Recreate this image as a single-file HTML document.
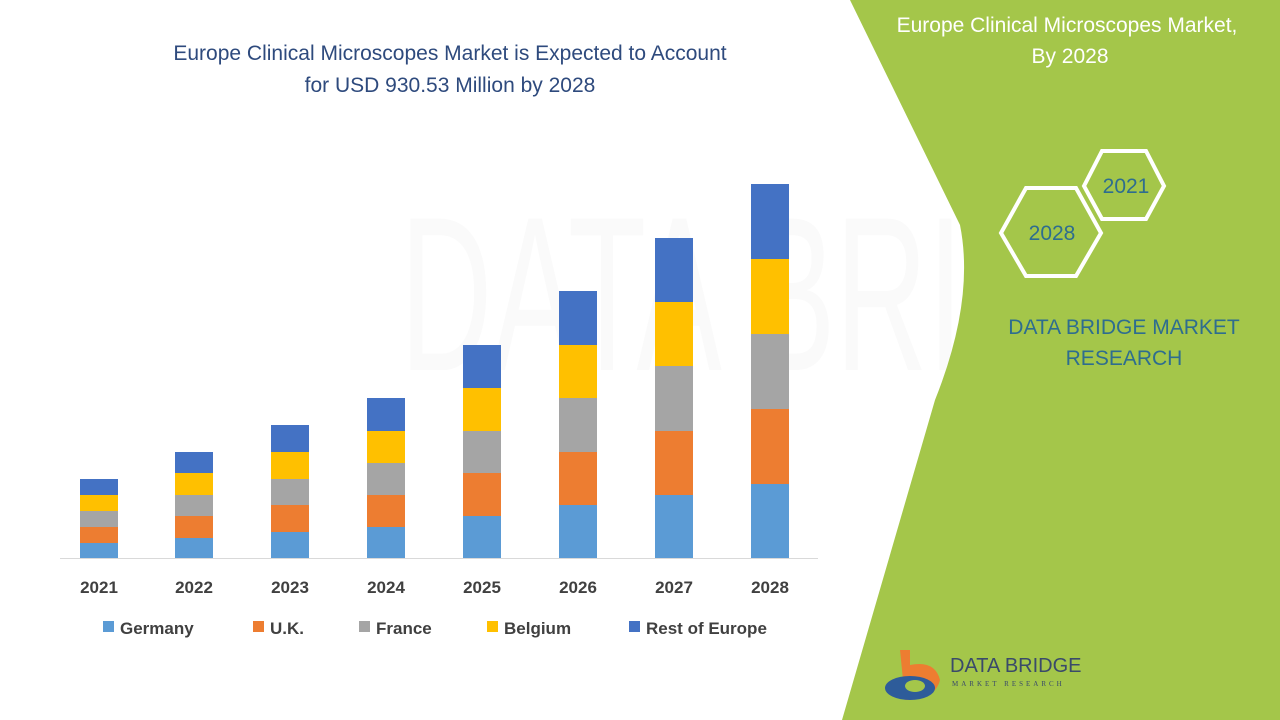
<!DOCTYPE html>
<html><head><meta charset="utf-8"><style>
body{margin:0;width:1280px;height:720px;overflow:hidden;background:#fff;font-family:"Liberation Sans",sans-serif;}
</style></head><body>
<svg width="1280" height="720" viewBox="0 0 1280 720" xmlns="http://www.w3.org/2000/svg" style="position:absolute;left:0;top:0">
<text x="400" y="370" font-size="220" fill="#fafafa" font-family="Liberation Sans" textLength="840" lengthAdjust="spacingAndGlyphs">DATA BRIDGE</text>
<path d="M850 0 L1280 0 L1280 720 L842 720 L935 400 Q975 300 960 225 Z" fill="#a4c64a"/>
<g font-family="Liberation Sans" font-size="21" fill="#2e4a7d" text-anchor="middle">
<text x="450" y="60">Europe Clinical Microscopes Market is Expected to Account</text>
<text x="450" y="92">for USD 930.53 Million by 2028</text>
</g>
<g font-family="Liberation Sans" font-size="21" fill="#fff" text-anchor="middle">
<text x="1067" y="32">Europe Clinical Microscopes Market,</text>
<text x="1070" y="63">By 2028</text>
</g>
<polygon points="1001,233 1026,188 1076,188 1101,233 1076,276 1026,276" fill="none" stroke="#fff" stroke-width="4"/>
<polygon points="1084,186 1102,151 1146,151 1164,186 1146,219 1102,219" fill="none" stroke="#fff" stroke-width="4"/>
<g font-family="Liberation Sans" font-size="21" fill="#2e6d8f" text-anchor="middle">
<text x="1052" y="240">2028</text>
<text x="1126" y="193">2021</text>
<text x="1124" y="334">DATA BRIDGE MARKET</text>
<text x="1124" y="365">RESEARCH</text>
</g>
<line x1="60" y1="558.5" x2="818" y2="558.5" stroke="#d9d9d9"/>
<g id="bars"></g>
<g font-family="Liberation Sans" font-size="17" font-weight="bold" fill="#404040" text-anchor="middle">
<text x="99" y="593">2021</text><text x="194" y="593">2022</text><text x="290" y="593">2023</text><text x="386" y="593">2024</text>
<text x="482" y="593">2025</text><text x="578" y="593">2026</text><text x="674" y="593">2027</text><text x="770" y="593">2028</text>
</g>
<g font-family="Liberation Sans" font-size="17" font-weight="bold" fill="#404040">
<rect x="103" y="621" width="11" height="11" fill="#5b9bd5"/><text x="120" y="634">Germany</text>
<rect x="253" y="621" width="11" height="11" fill="#ed7d31"/><text x="270" y="634">U.K.</text>
<rect x="359" y="621" width="11" height="11" fill="#a5a5a5"/><text x="376" y="634">France</text>
<rect x="487" y="621" width="11" height="11" fill="#ffc000"/><text x="504" y="634">Belgium</text>
<rect x="629" y="621" width="11" height="11" fill="#4472c4"/><text x="646" y="634">Rest of Europe</text>
</g>
<g>
<path d="M900 650 L910 650 L910 665 Q935 660 940 680 Q935 700 905 700 Z" fill="#ed7d31"/>
<ellipse cx="910" cy="688" rx="25" ry="12" fill="#2e5c9a"/>
<ellipse cx="915" cy="686" rx="10" ry="6" fill="#a4c64a"/>
<text x="950" y="672" font-family="Liberation Sans" font-size="20" fill="#3a4a6a">DATA BRIDGE</text>
<text x="952" y="686" font-family="Liberation Serif" font-size="7" fill="#3a4a6a" letter-spacing="3">MARKET RESEARCH</text>
</g>
</svg>
<script>
var data=[[99,[558,543,527,511,495,479]],[194,[558,538,516,495,473,452]],[290,[558,532,505,479,452,425]],[386,[558,527,495,463,431,398]],[482,[558,516,473,431,388,345]],[578,[558,505,452,398,345,291]],[674,[558,495,431,366,302,238]],[770,[558,484,409,334,259,184]]];
var cols=["#5b9bd5","#ed7d31","#a5a5a5","#ffc000","#4472c4"];
var g=document.getElementById("bars"),s="";
data.forEach(function(d){for(var i=0;i<5;i++){s+='<rect x="'+(d[0]-19)+'" y="'+d[1][i+1]+'" width="38" height="'+(d[1][i]-d[1][i+1])+'" fill="'+cols[i]+'"/>';}});
g.innerHTML=s;
</script>
</body></html>
